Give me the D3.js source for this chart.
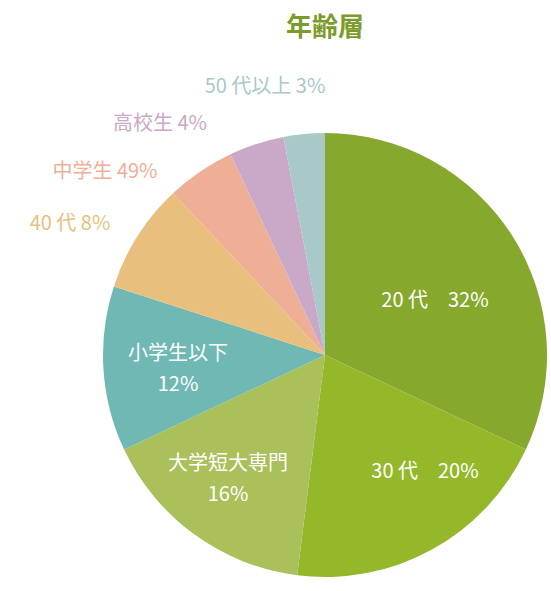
<!DOCTYPE html>
<html><head><meta charset="utf-8">
<script src="https://cdn.jsdelivr.net/npm/d3@7/dist/d3.min.js"></script>
<style>body{margin:0;background:#fff}</style></head>
<body><svg id="c" width="551" height="591"></svg>
<script>
const categories = ["20 代", "30 代", "大学短大専門", "小学生以下", "40 代", "中学生", "高校生", "50 代以上"];
const values = [32, 20, 16, 12, 8, 5, 4, 3];
const pctLabels = ["32%", "20%", "16%", "12%", "8%", "49%", "4%", "3%"];
const colors = ["#86a82d", "#95b72a", "#a9c05b", "#6fb8b4", "#e9bf7e", "#eeaf96", "#c9a9c7", "#a9c8c8"];

// label layout (pixel positions, kept separate from data)
const layout = [
  {x:435, y:307, inside:true, one:true},
  {x:425, y:478, inside:true, one:true},
  {x:228, y:470, inside:true},
  {x:178, y:360, inside:true},
  {x:70, y:230},
  {x:105, y:178},
  {x:160, y:130},
  {x:265, y:93}
];

const svg = d3.select("#c");
const cx = 325, cy = 355, R = 222;
const font = "'Noto Sans CJK JP','Noto Sans',sans-serif";

svg.append("text").attr("x", 325).attr("y", 36).attr("text-anchor","middle")
  .attr("font-family", font).attr("font-weight","bold").attr("font-size", 26)
  .attr("fill", "#7b9b2b").text("年齢層");

const pie = d3.pie().sort(null).value(d => d)(values);
const arc = d3.arc().innerRadius(0).outerRadius(R);
const g = svg.append("g").attr("transform", `translate(${cx},${cy})`);
g.selectAll("path").data(pie).join("path")
  .attr("d", arc).attr("fill", (d,i) => colors[i]);

pie.forEach((d,i) => {
  const L = layout[i];
  const t = svg.append("text").attr("x", L.x).attr("y", L.y).attr("text-anchor","middle")
    .attr("font-family", font).attr("font-size", 20)
    .attr("fill", L.inside ? "#fff" : colors[i]);
  if (L.inside && !L.one) {
    t.append("tspan").attr("x", L.x).text(categories[i]);
    t.append("tspan").attr("x", L.x).attr("dy", 31).text(pctLabels[i]);
  } else if (L.one) {
    t.text(categories[i] + "\u3000" + pctLabels[i]);
  } else {
    t.text(categories[i] + " " + pctLabels[i]);
  }
});
</script></body></html>
